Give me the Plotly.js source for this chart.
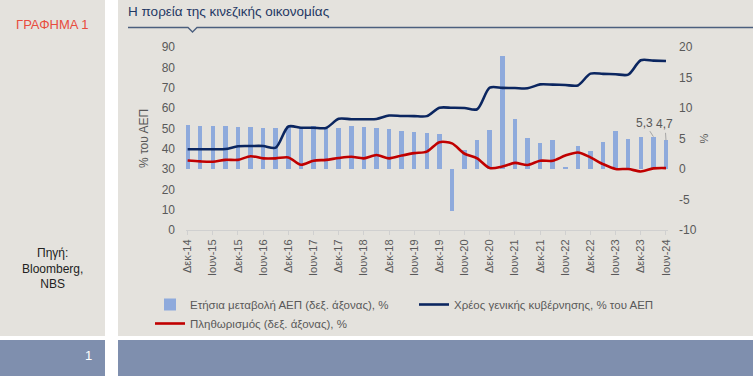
<!DOCTYPE html>
<html>
<head>
<meta charset="utf-8">
<script src="https://cdn.plot.ly/plotly-3.0.1.min.js"></script>
<style>html,body{margin:0;padding:0;background:#fff;}#chart{width:753px;height:376px;}</style>
</head>
<body>
<div id="chart"></div>
<script>
// ---- data ----
const quarters = ["Δεκ-14","Μαρ-15","Ιουν-15","Σεπ-15","Δεκ-15","Μαρ-16","Ιουν-16","Σεπ-16","Δεκ-16","Μαρ-17","Ιουν-17","Σεπ-17","Δεκ-17","Μαρ-18","Ιουν-18","Σεπ-18","Δεκ-18","Μαρ-19","Ιουν-19","Σεπ-19","Δεκ-19","Μαρ-20","Ιουν-20","Σεπ-20","Δεκ-20","Μαρ-21","Ιουν-21","Σεπ-21","Δεκ-21","Μαρ-22","Ιουν-22","Σεπ-22","Δεκ-22","Μαρ-23","Ιουν-23","Σεπ-23","Δεκ-23","Μαρ-24","Ιουν-24"];
const gdpGrowth = [7.2,7.1,7.1,7.0,6.9,6.9,6.7,6.8,7.0,6.8,7.0,6.8,6.8,7.0,6.9,6.7,6.5,6.3,6.0,5.9,5.8,-6.9,3.1,4.8,6.4,18.5,8.2,5.1,4.2,4.8,0.4,3.8,2.9,4.5,6.3,4.9,5.2,5.3,4.7];
const govDebt = [39.7,39.7,39.7,39.8,41.2,41.3,41.3,40.5,50.9,50.3,50.3,50.2,54.7,54.5,54.5,54.6,56.3,56.1,56.0,56.0,60.1,60.1,60.0,59.4,70.0,69.9,69.8,69.7,71.6,71.5,71.3,71.1,76.9,76.8,76.6,76.4,83.5,83.3,83.1];
const inflation = [1.4,1.25,1.2,1.5,1.5,2.1,1.75,1.75,1.9,0.7,1.35,1.5,1.8,2.0,1.75,2.3,1.75,2.2,2.6,2.85,4.4,4.2,2.5,1.75,0.15,0.4,1.0,0.65,1.35,1.35,2.2,2.7,1.9,0.8,0.0,0.0,-0.4,0.1,0.15];
const tickLabels = quarters.filter(q => q.startsWith("Δεκ") || q.startsWith("Ιουν"));
const rightTicks = [-10, -5, 0, 5, 10, 15, 20];
const rightTickText = ["-10", "-5", "0", "5", "10", "15", "20"];
const labelledPoints = ["Μαρ-24","Ιουν-24"];
const names = {
  gdp: "Ετήσια μεταβολή ΑΕΠ (δεξ. άξονας), %",
  debt: "Χρέος γενικής κυβέρνησης, % του ΑΕΠ",
  infl: "Πληθωρισμός (δεξ. άξονας), %"
};

// ---- geometry helpers (pixels -> paper) ----
const W = 753, H = 376, L = 186, R = 85, T = 47, B = 146;
const pw = W - L - R, ph = H - T - B;
const px = v => (v - L) / pw;
const py = v => (H - B - v) / ph;

const FONT = "Liberation Sans, Arial, sans-serif";
const GREY = "#595959";

const traces = [
  {type: "bar", x: quarters, y: gdpGrowth, yaxis: "y", name: names.gdp,
   marker: {color: "#8eaadc"}, width: 0.36, legend: "legend"},
  {type: "scatter", mode: "lines", x: quarters, y: inflation, yaxis: "y", name: names.infl,
   line: {color: "#c00000", width: 2.6, shape: "spline", smoothing: 0.8}, legend: "legend"},
  {type: "scatter", mode: "lines", x: quarters, y: govDebt, yaxis: "y2", name: names.debt,
   line: {color: "#0b2660", width: 2.6, shape: "spline", smoothing: 0.8}, legend: "legend2"}
];

const annotations = [
  {xref: "paper", yref: "paper", x: px(52), y: py(24), text: "ΓΡΑΦΗΜΑ 1", showarrow: false,
   xanchor: "center", yanchor: "middle", font: {family: FONT, size: 13, color: "#e84c3d"}},
  {xref: "paper", yref: "paper", x: px(52), y: py(268), text: "Πηγή:<br>Bloomberg,<br>NBS", showarrow: false,
   xanchor: "center", yanchor: "middle", font: {family: FONT, size: 12, color: "#222222"}},
  {xref: "paper", yref: "paper", x: px(94), y: py(355), text: "1", showarrow: false,
   xanchor: "right", yanchor: "middle", font: {family: FONT, size: 13, color: "#ffffff"}}
];
const offs = [[-9, -14], [-1, -16]];
labelledPoints.forEach((q, k) => {
  const i = quarters.indexOf(q);
  annotations.push({xref: "x", yref: "y", x: i, y: gdpGrowth[i],
    text: String(gdpGrowth[i]).replace(".", ","), showarrow: true, arrowhead: 0,
    arrowwidth: 1, arrowcolor: "#a6a6a6", ax: offs[k][0], ay: offs[k][1], standoff: 0,
    font: {family: FONT, size: 12, color: GREY}});
});

const shapes = [
  // panels
  {type: "rect", xref: "paper", yref: "paper", x0: px(0), x1: px(105), y0: py(0), y1: py(336), fillcolor: "#e4e2dd", line: {width: 0}, layer: "below"},
  {type: "rect", xref: "paper", yref: "paper", x0: px(118), x1: px(753), y0: py(0), y1: py(336), fillcolor: "#e4e2dd", line: {width: 0}, layer: "below"},
  {type: "rect", xref: "paper", yref: "paper", x0: px(0), x1: px(105), y0: py(340), y1: py(376), fillcolor: "#7f8fae", line: {width: 0}, layer: "below"},
  {type: "rect", xref: "paper", yref: "paper", x0: px(118), x1: px(753), y0: py(340), y1: py(376), fillcolor: "#7f8fae", line: {width: 0}, layer: "below"},
  // title rule with notch
  {type: "path", xref: "paper", yref: "paper",
   path: `M${px(128)},${py(27.5)} L${px(188)},${py(27.5)} L${px(192.5)},${py(32)} L${px(197)},${py(27.5)} L${px(753)},${py(27.5)}`,
   line: {color: "#4b5f7e", width: 1.3}, layer: "below"}
];

const layout = {
  width: W, height: H,
  margin: {l: L, r: R, t: T, b: B, autoexpand: false},
  paper_bgcolor: "#ffffff", plot_bgcolor: "rgba(0,0,0,0)",
  font: {family: FONT, size: 11, color: GREY},
  title: {text: "Η πορεία της κινεζικής οικονομίας", xref: "container", yref: "container",
    x: 128 / W, xanchor: "left", y: 1 - 11 / H, yanchor: "middle",
    font: {family: FONT, size: 13.5, color: "#1f3864"}},
  bargap: 0,
  xaxis: {type: "category", range: [-0.13, 38.16], tickmode: "array", tickvals: tickLabels, ticktext: tickLabels,
    tickangle: -90, ticks: "outside", ticklen: 4, tickcolor: "#d0d0d0", showline: true, linecolor: "#d0d0d0",
    linewidth: 1, showgrid: false, zeroline: false, tickfont: {family: FONT, size: 11, color: GREY}},
  yaxis: {side: "right", range: [-10, 20], tickmode: "array", tickvals: rightTicks, ticktext: rightTickText,
    showgrid: false, zeroline: false, showline: false,
    ticklabelstandoff: 10, tickfont: {family: FONT, size: 12, color: GREY},
    title: {text: "%", standoff: 4, font: {family: FONT, size: 11, color: GREY}}},
  yaxis2: {side: "left", overlaying: "y", range: [0, 90], dtick: 10, showgrid: false, zeroline: false, showline: false,
    ticklabelstandoff: 10, tickfont: {family: FONT, size: 12, color: GREY},
    title: {text: "% του ΑΕΠ", standoff: 10, font: {family: FONT, size: 12, color: GREY}}},
  legend: {orientation: "v", x: px(150), xanchor: "left", y: py(290), yanchor: "top",
    bgcolor: "rgba(0,0,0,0)", font: {family: FONT, size: 11.5, color: GREY}, tracegroupgap: 0, traceorder: "normal"},
  legend2: {orientation: "v", x: px(414), xanchor: "left", y: py(290), yanchor: "top",
    bgcolor: "rgba(0,0,0,0)", font: {family: FONT, size: 11.5, color: GREY}},
  showlegend: true,
  annotations: annotations,
  shapes: shapes
};

Plotly.newPlot("chart", traces, layout, {displayModeBar: false, staticPlot: true});
</script>
</body>
</html>
